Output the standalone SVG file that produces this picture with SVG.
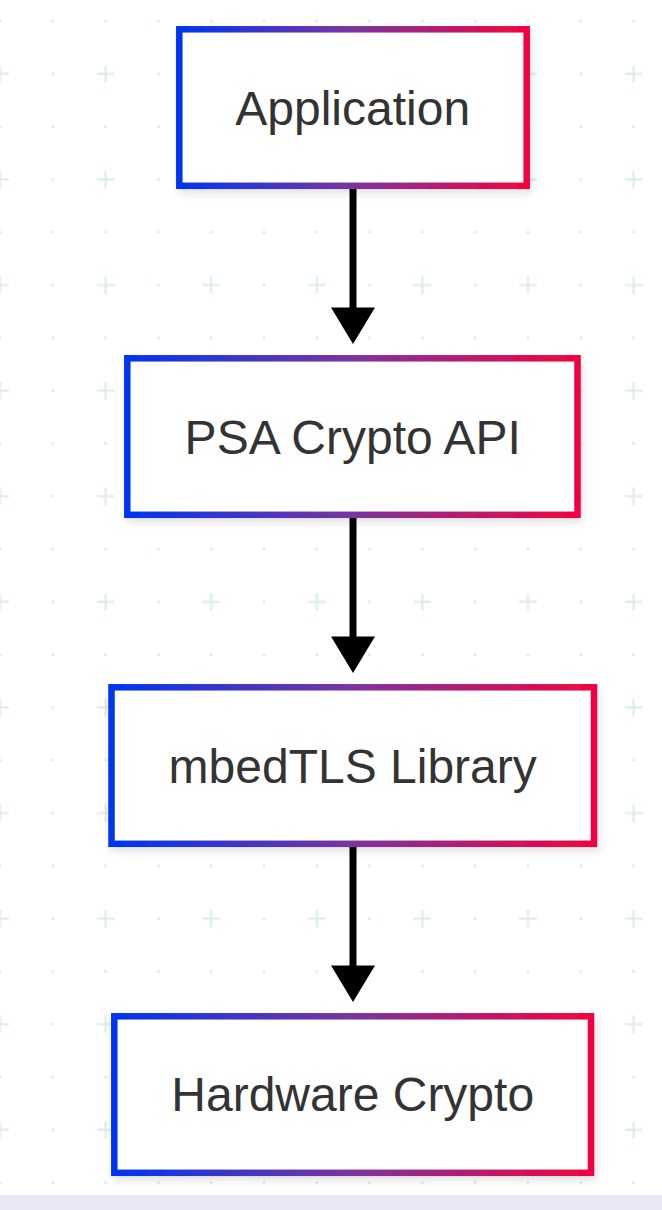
<svg xmlns="http://www.w3.org/2000/svg" width="662" height="1210" viewBox="0 0 662 1210">
  <defs>
    <pattern id="grid" x="-26.4" y="-5.4" width="105.6" height="105.6" patternUnits="userSpaceOnUse">
      <circle cx="26.4" cy="26.4" r="1.6" fill="#e0ebee"/>
      <circle cx="79.2" cy="26.4" r="1.6" fill="#e0ebee"/>
      <circle cx="79.2" cy="79.2" r="1.6" fill="#e0ebee"/>
      <path d="M18.4 79.2 H34.4 M26.4 71.2 V87.2" stroke="#d9eaee" stroke-width="2" stroke-linecap="round"/>
    </pattern>
    <linearGradient id="edge" x1="0" y1="0" x2="1" y2="0">
      <stop offset="0" stop-color="#0036f0"/>
      <stop offset="0.5" stop-color="#7a349e"/>
      <stop offset="1" stop-color="#f2043f"/>
    </linearGradient>
    <filter id="shadow" x="-10%" y="-20%" width="125%" height="150%">
      <feDropShadow dx="2" dy="4" stdDeviation="4" flood-color="#000" flood-opacity="0.12"/>
    </filter>
    <style>
      .box { fill: #ffffff; stroke: url(#edge); stroke-width: 6.5; filter: url(#shadow); }
      .label { font-family: "Liberation Sans", Arial, sans-serif; font-size: 48px; fill: #333333; text-anchor: middle; }
      .conn { stroke: #000; stroke-width: 7; fill: none; }
      .head { fill: #000; }
    </style>
  </defs>

  <rect x="0" y="0" width="662" height="1210" fill="#ffffff"/>
  <rect x="0" y="0" width="662" height="1195" fill="url(#grid)"/>
  <rect x="0" y="1195" width="662" height="15" fill="#e9e9f6"/>

  <g id="connectors">
    <line class="conn" x1="353" y1="188" x2="353" y2="308"/>
    <path class="head" d="M331 307.5 L375 307.5 L353 344 Z"/>
    <line class="conn" x1="353" y1="517" x2="353" y2="637"/>
    <path class="head" d="M331 636.5 L375 636.5 L353 673 Z"/>
    <line class="conn" x1="353" y1="846" x2="353" y2="966"/>
    <path class="head" d="M331 965.5 L375 965.5 L353 1002 Z"/>
  </g>

  <g id="node-application">
    <rect class="box" x="179.3" y="29.3" width="347.4" height="156.5"/>
    <text class="label" x="352.7" y="124.5">Application</text>
  </g>
  <g id="node-psa">
    <rect class="box" x="127.3" y="358.3" width="450.2" height="156.5"/>
    <text class="label" x="352.7" y="453.5">PSA Crypto API</text>
  </g>
  <g id="node-mbedtls">
    <rect class="box" x="111.5" y="687.3" width="482.5" height="156.5"/>
    <text class="label" x="352.7" y="782.5">mbedTLS Library</text>
  </g>
  <g id="node-hardware">
    <rect class="box" x="114.3" y="1016.3" width="476.7" height="156.5"/>
    <text class="label" x="352.7" y="1111">Hardware Crypto</text>
  </g>
</svg>
